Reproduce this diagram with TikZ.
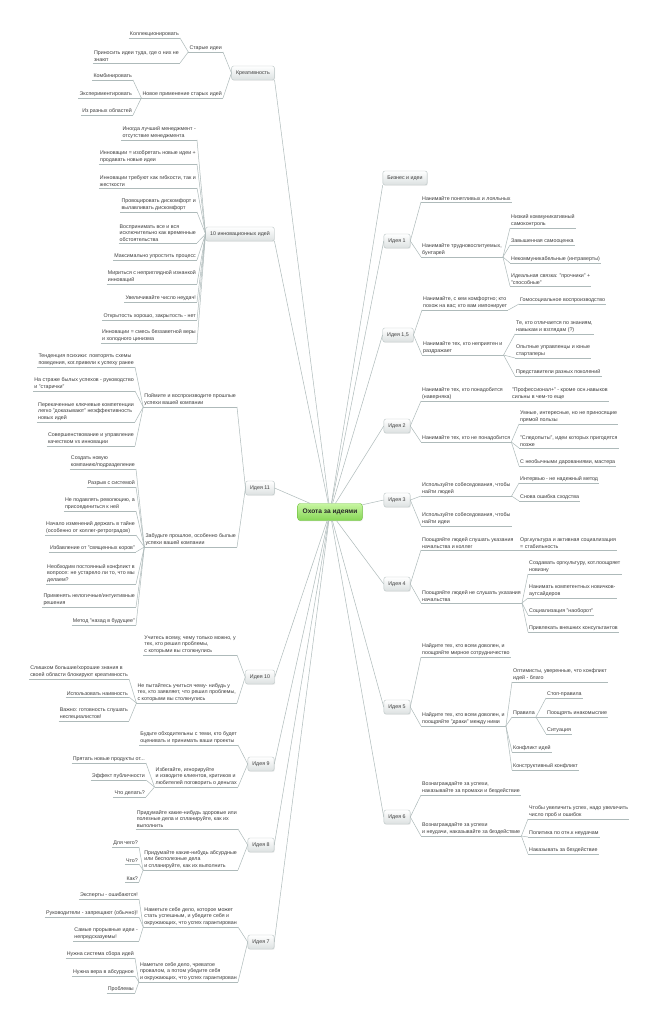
\documentclass[tikz,border=0pt]{standalone}
\usepackage{fontspec}
\setmainfont{Liberation Sans}
\usetikzlibrary{shadows}
\newcommand{\mapfont}{\fontsize{5.3}{6.5}\selectfont}
\definecolor{ink}{HTML}{3C3C3C}
\definecolor{linkgray}{HTML}{AEBABA}
\definecolor{boxline}{HTML}{B9C4C4}
\definecolor{boxbot}{HTML}{DCE1E1}
\definecolor{hunttop}{HTML}{C8F6A2}
\definecolor{huntbot}{HTML}{86D655}
\definecolor{huntline}{HTML}{72C242}

\begin{document}
\begin{tikzpicture}[x=1pt, y=-1pt,
					link/.style={draw=linkgray, line width=0.5pt},
					topic/.style={draw=boxline, rounded corners=2pt, top color=white, bottom color=boxbot, minimum height=14pt, inner xsep=4.5pt, font=\mapfont, text=ink,
						drop shadow={opacity=0.12, shadow xshift=0.7pt, shadow yshift=-0.9pt}},
					hunt/.style={draw=huntline, rounded corners=2.5pt, top color=hunttop, bottom color=huntbot, minimum height=17pt, inner xsep=5pt, font=\fontsize{6.6}{8}\selectfont\bfseries, text=black!85,
						drop shadow={opacity=0.12, shadow xshift=0.7pt, shadow yshift=-0.9pt}},
					sub/.style={inner xsep=1pt, inner ysep=1.4pt, align=left, font=\mapfont, text=ink,
						append after command={\pgfextra{\let\ulnode\tikzlastnode} (\ulnode.south west) edge[link] (\ulnode.south east)}},
					subl/.style={sub, anchor=south east},
					subr/.style={sub, anchor=south west}
				]
				% --- Рамка ---
				\fill[white] (0,0) rectangle (656,1024);
				\useasboundingbox (0,0) rectangle (656,1024);

				% --- Центр ---
				\node[hunt] (hunt) at (330,512) {Охота за идеями};

				% --- Главные темы слева ---
				\node[topic] (kr)  at (253,73)  {Креативность};
				\node[topic] (inn) at (240,234) {10 инновационных идей};
				\node[topic] (i11) at (260,488) {Идея 11};
				\node[topic] (i10) at (260,677) {Идея 10};
				\node[topic] (i9)  at (261,764) {Идея 9};
				\node[topic] (i8)  at (261,845) {Идея 8};
				\node[topic] (i7)  at (261,942) {Идея 7};

				% --- Главные темы справа ---
				\node[topic] (biz) at (405,178) {Бизнес и идеи};
				\node[topic] (i1)  at (397,241) {Идея 1};
				\node[topic] (i15) at (398,335) {Идея 1,5};
				\node[topic] (i2)  at (397,426) {Идея 2};
				\node[topic] (i3)  at (397,500) {Идея 3};
				\node[topic] (i4)  at (397,584) {Идея 4};
				\node[topic] (i5)  at (397,707) {Идея 5};
				\node[topic] (i6)  at (397,817) {Идея 6};

				% --- Связи с центром ---
				\draw[link] (hunt) -- (kr.south east);
				\draw[link] (hunt) -- (inn.south east);
				\draw[link] (hunt) -- (i11.east);
				\draw[link] (hunt) -- (i10.east);
				\draw[link] (hunt) -- (i9.east);
				\draw[link] (hunt) -- (i8.east);
				\draw[link] (hunt) -- (i7.east);
				\draw[link] (hunt) -- (biz.south west);
				\draw[link] (hunt) -- (i1.west);
				\draw[link] (hunt) -- (i15.west);
				\draw[link] (hunt) -- (i2.west);
				\draw[link] (hunt) -- (i3.west);
				\draw[link] (hunt) -- (i4.west);
				\draw[link] (hunt) -- (i5.west);
				\draw[link] (hunt) -- (i6.west);

				% --- Креативность ---
				\node[subl] (kr1) at (223,52) {Старые идеи};
				\draw[link] (kr.west) -- (kr1.south east);
				\node[subl] (kr11) at (180,38) {Коллекционировать};
				\draw[link] (kr1.south west) -- (kr11.south east);
				\node[subl] (kr12) at (180,63) {Приносить идеи туда, где о них не\\знают};
				\draw[link] (kr1.south west) -- (kr12.south east);
				\node[subl] (kr2) at (223,98) {Новое применение старых идей};
				\draw[link] (kr.west) -- (kr2.south east);
				\node[subl] (kr21) at (133,80) {Комбинировать};
				\draw[link] (kr2.south west) -- (kr21.south east);
				\node[subl] (kr22) at (133,98) {Экспериментировать};
				\draw[link] (kr2.south west) -- (kr22.south east);
				\node[subl] (kr23) at (133,115) {Из разных областей};
				\draw[link] (kr2.south west) -- (kr23.south east);

				% --- 10 инновационных идей ---
				\node[subl] (inn1) at (197,140) {Иногда лучший менеджмент -\\отсутствие менеджмента};
				\draw[link] (inn.west) -- (inn1.south east);
				\node[subl] (inn2) at (197,164) {Инновации = изобретать новые идеи +\\продавать новые идеи};
				\draw[link] (inn.west) -- (inn2.south east);
				\node[subl] (inn3) at (197,188) {Инновации требуют как гибкости, так и\\жесткости};
				\draw[link] (inn.west) -- (inn3.south east);
				\node[subl] (inn4) at (197,212) {Провоцировать дискомфорт и\\вылавливать дискомфорт};
				\draw[link] (inn.west) -- (inn4.south east);
				\node[subl] (inn5) at (197,243) {Воспринимать все и вся\\исключительно как временные\\обстоятельства};
				\draw[link] (inn.west) -- (inn5.south east);
				\node[subl] (inn6) at (197,260) {Максимально упростить процесс};
				\draw[link] (inn.west) -- (inn6.south east);
				\node[subl] (inn7) at (197,284) {Мириться с неприглядной изнанкой\\инноваций};
				\draw[link] (inn.west) -- (inn7.south east);
				\node[subl] (inn8) at (197,302) {Увеличивайте число неудач!};
				\draw[link] (inn.west) -- (inn8.south east);
				\node[subl] (inn9) at (197,320) {Открытость хорошо, закрытость - нет};
				\draw[link] (inn.west) -- (inn9.south east);
				\node[subl] (inn10) at (197,343) {Инновации = смесь беззаветной веры\\и холодного цинизма};
				\draw[link] (inn.west) -- (inn10.south east);

				% --- Идея 11 ---
				\node[subl] (i11a) at (237,407) {Поймите и воспроизводите прошлые\\успехи вашей компании};
				\draw[link] (i11.west) -- (i11a.south east);
				\node[subl] (i11a1) at (135,367) {Тенденция психики: повторять схемы\\поведения, ког.привели к успеху ранее};
				\draw[link] (i11a.south west) -- (i11a1.south east);
				\node[subl] (i11a2) at (135,391) {На страже былых успехов - руководство\\и "старички"};
				\draw[link] (i11a.south west) -- (i11a2.south east);
				\node[subl] (i11a3) at (135,422) {Перекаченные ключевые компетенции\\легко "доказывают" неэффективность\\новых идей};
				\draw[link] (i11a.south west) -- (i11a3.south east);
				\node[subl] (i11a4) at (135,446) {Совершенствование и управление\\качеством vs инновации};
				\draw[link] (i11a.south west) -- (i11a4.south east);
				\node[subl] (i11b) at (237,547) {Забудьте прошлое, особенно былые\\успехи вашей компании};
				\draw[link] (i11.west) -- (i11b.south east);
				\node[subl] (i11b1) at (136,469) {Создать новую\\компанию/подразделение};
				\draw[link] (i11b.south west) -- (i11b1.south east);
				\node[subl] (i11b2) at (136,487) {Разрыв с системой};
				\draw[link] (i11b.south west) -- (i11b2.south east);
				\node[subl] (i11b3) at (136,511) {Не подавлять революцию, а\\присоединиться к ней};
				\draw[link] (i11b.south west) -- (i11b3.south east);
				\node[subl] (i11b4) at (136,535) {Начало изменений держать в тайне\\(особенно от коллег-ретроградов)};
				\draw[link] (i11b.south west) -- (i11b4.south east);
				\node[subl] (i11b5) at (136,552) {Избавление от "священных коров"};
				\draw[link] (i11b.south west) -- (i11b5.south east);
				\node[subl] (i11b6) at (136,584) {Необходим постоянный конфликт в\\вопросе: не устарело ли то, что мы\\делаем?};
				\draw[link] (i11b.south west) -- (i11b6.south east);
				\node[subl] (i11b7) at (136,607) {Применять нелогичные/интуитивные\\решения};
				\draw[link] (i11b.south west) -- (i11b7.south east);
				\node[subl] (i11b8) at (136,625) {Метод "назад в будущее"};
				\draw[link] (i11b.south west) -- (i11b8.south east);

				% --- Идея 10 ---
				\node[subl] (i10a) at (237,655) {Учитесь всему, чему только можно, у\\тех, кто решил проблемы,\\с которыми вы столкнулись};
				\draw[link] (i10.west) -- (i10a.south east);
				\node[subl] (i10b) at (237,703) {Не пытайтесь учиться чему- нибудь у\\тех, кто заявляет, что решил проблемы,\\с которыми вы столкнулись};
				\draw[link] (i10.west) -- (i10b.south east);
				\node[subl] (i10b1) at (129,679) {Слишком большие/хорошие знания в\\своей области блокируют креативность};
				\draw[link] (i10b.south west) -- (i10b1.south east);
				\node[subl] (i10b2) at (129,697) {Использовать наивность};
				\draw[link] (i10b.south west) -- (i10b2.south east);
				\node[subl] (i10b3) at (129,721) {Важно: готовность слушать\\неспециалистов!};
				\draw[link] (i10b.south west) -- (i10b3.south east);

				% --- Идея 9 ---
				\node[subl] (i9a) at (238,745) {Будьте обходительны с теми, кто будет\\оценивать и принимать ваши проекты};
				\draw[link] (i9.west) -- (i9a.south east);
				\node[subl] (i9b) at (238,787) {Избегайте, игнорируйте\\и изводите клиентов, критиков и\\любителей поговорить о деньгах};
				\draw[link] (i9.west) -- (i9b.south east);
				\node[subl] (i9b1) at (146,763) {Прятать новые продукты от...};
				\draw[link] (i9b.south west) -- (i9b1.south east);
				\node[subl] (i9b2) at (146,780) {Эффект публичности};
				\draw[link] (i9b.south west) -- (i9b2.south east);
				\node[subl] (i9b3) at (146,797) {Что делать?};
				\draw[link] (i9b.south west) -- (i9b3.south east);

				% --- Идея 8 ---
				\node[subl] (i8a) at (238,829) {Придумайте какие-нибудь здоровые или\\полезные дела и спланируйте, как их\\выполнить};
				\draw[link] (i8.west) -- (i8a.south east);
				\node[subl] (i8b) at (238,870) {Придумайте какие-нибудь абсурдные\\или бесполезные дела\\и спланируйте, как их выполнить};
				\draw[link] (i8.west) -- (i8b.south east);
				\node[subl] (i8b1) at (139,847) {Для чего?};
				\draw[link] (i8b.south west) -- (i8b1.south east);
				\node[subl] (i8b2) at (139,864) {Что?};
				\draw[link] (i8b.south west) -- (i8b2.south east);
				\node[subl] (i8b3) at (139,882) {Как?};
				\draw[link] (i8b.south west) -- (i8b3.south east);

				% --- Идея 7 ---
				\node[subl] (i7a) at (238,927) {Наметьте себе дело, которое может\\стать успешным, и убедите себя и\\окружающих, что успех гарантирован};
				\draw[link] (i7.west) -- (i7a.south east);
				\node[subl] (i7a1) at (139,899) {Эксперты - ошибаются!};
				\draw[link] (i7a.south west) -- (i7a1.south east);
				\node[subl] (i7a2) at (139,917) {Руководители - запрещают (обычно)!};
				\draw[link] (i7a.south west) -- (i7a2.south east);
				\node[subl] (i7a3) at (139,941) {Самые прорывные идеи -\\непредсказуемы!};
				\draw[link] (i7a.south west) -- (i7a3.south east);
				\node[subl] (i7b) at (238,982) {Наметьте себе дело, чреватое\\провалом, а потом убедите себя\\и окружающих, что успех гарантирован};
				\draw[link] (i7.west) -- (i7b.south east);
				\node[subl] (i7b1) at (135,958) {Нужна система сбора идей};
				\draw[link] (i7b.south west) -- (i7b1.south east);
				\node[subl] (i7b2) at (135,976) {Нужна вера в абсурдное};
				\draw[link] (i7b.south west) -- (i7b2.south east);
				\node[subl] (i7b3) at (135,993) {Проблемы};
				\draw[link] (i7b.south west) -- (i7b3.south east);

				% --- Идея 1 ---
				\node[subr] (i1a) at (421,202) {Нанимайте понятливых и лояльных};
				\draw[link] (i1.east) -- (i1a.south west);
				\node[subr] (i1b) at (421,257) {Нанимайте трудновоспитуемых,\\бунтарей};
				\draw[link] (i1.east) -- (i1b.south west);
				\node[subr] (i1b1) at (510,228) {Низкий коммуникативный\\самоконтроль};
				\draw[link] (i1b.south east) -- (i1b1.south west);
				\node[subr] (i1b2) at (510,245) {Завышенная самооценка};
				\draw[link] (i1b.south east) -- (i1b2.south west);
				\node[subr] (i1b3) at (510,263) {Некоммуникабельные (интраверты)};
				\draw[link] (i1b.south east) -- (i1b3.south west);
				\node[subr] (i1b4) at (510,286) {Идеальная связка: "прочники" +\\"способные"};
				\draw[link] (i1b.south east) -- (i1b4.south west);

				% --- Идея 1,5 ---
				\node[subr] (i15a) at (422,310) {Нанимайте, с кем комфортно; кто\\похож на вас; кто вам импонирует};
				\draw[link] (i15.east) -- (i15a.south west);
				\node[subr] (i15a1) at (519,304) {Гомосоциальное воспроизводство};
				\draw[link] (i15a.south east) -- (i15a1.south west);
				\node[subr] (i15b) at (422,355) {Нанимайте тех, кто неприятен и\\раздражает};
				\draw[link] (i15.east) -- (i15b.south west);
				\node[subr] (i15b1) at (515,334) {Те, кто отличается по знаниям,\\навыкам и взглядам (?)};
				\draw[link] (i15b.south east) -- (i15b1.south west);
				\node[subr] (i15b2) at (515,358) {Опытные управленцы и юные\\стартаперы};
				\draw[link] (i15b.south east) -- (i15b2.south west);
				\node[subr] (i15b3) at (515,376) {Представители разных поколений};
				\draw[link] (i15b.south east) -- (i15b3.south west);

				% --- Идея 2 ---
				\node[subr] (i2a) at (421,401) {Нанимайте тех, кто понадобится\\(наверняка)};
				\draw[link] (i2.east) -- (i2a.south west);
				\node[subr] (i2a1) at (511,401) {"Профессионал+" - кроме осн.навыков\\сильны в чем-то еще};
				\draw[link] (i2a.south east) -- (i2a1.south west);
				\node[subr] (i2b) at (421,442) {Нанимайте тех, кто не понадобится};
				\draw[link] (i2.east) -- (i2b.south west);
				\node[subr] (i2b1) at (519,424) {Умные, интересные, но не приносящие\\прямой пользы};
				\draw[link] (i2b.south east) -- (i2b1.south west);
				\node[subr] (i2b2) at (519,448) {"Следопыты", идеи которых пригодятся\\позже};
				\draw[link] (i2b.south east) -- (i2b2.south west);
				\node[subr] (i2b3) at (519,466) {С необычными дарованиями, мастера};
				\draw[link] (i2b.south east) -- (i2b3.south west);

				% --- Идея 3 ---
				\node[subr] (i3a) at (421,496) {Используйте собеседования, чтобы\\найти людей};
				\draw[link] (i3.east) -- (i3a.south west);
				\node[subr] (i3a1) at (519,483) {Интервью - не надежный метод};
				\draw[link] (i3a.south east) -- (i3a1.south west);
				\node[subr] (i3a2) at (519,501) {Снова ошибка сходства};
				\draw[link] (i3a.south east) -- (i3a2.south west);
				\node[subr] (i3b) at (421,526) {Используйте собеседования, чтобы\\найти идеи};
				\draw[link] (i3.east) -- (i3b.south west);

				% --- Идея 4 ---
				\node[subr] (i4a) at (421,550) {Поощряйте людей слушать указания\\начальства и коллег};
				\draw[link] (i4.east) -- (i4a.south west);
				\node[subr] (i4a1) at (519,550) {Орг.культура и активная социализация\\= стабильность};
				\draw[link] (i4a.south east) -- (i4a1.south west);
				\node[subr] (i4b) at (421,603) {Поощряйте людей не слушать указания\\начальства};
				\draw[link] (i4.east) -- (i4b.south west);
				\node[subr] (i4b1) at (528,574) {Создавать оргкультуру, кот.поощряет\\новизну};
				\draw[link] (i4b.south east) -- (i4b1.south west);
				\node[subr] (i4b2) at (528,598) {Нанимать компетентных новичков-\\аутсайдеров};
				\draw[link] (i4b.south east) -- (i4b2.south west);
				\node[subr] (i4b3) at (528,615) {Социализация "наоборот"};
				\draw[link] (i4b.south east) -- (i4b3.south west);
				\node[subr] (i4b4) at (528,632) {Привлекать внешних консультантов};
				\draw[link] (i4b.south east) -- (i4b4.south west);

				% --- Идея 5 ---
				\node[subr] (i5a) at (421,657) {Найдите тех, кто всем доволен, и\\поощряйте мирное сотрудничество};
				\draw[link] (i5.east) -- (i5a.south west);
				\node[subr] (i5b) at (421,726) {Найдите тех, кто всем доволен, и\\поощряйте "драки" между ними};
				\draw[link] (i5.east) -- (i5b.south west);
				\node[subr] (i5b1) at (512,682) {Оптимисты, уверенные, что конфликт\\идей - благо};
				\draw[link] (i5b.south east) -- (i5b1.south west);
				\node[subr] (i5b2) at (512,717) {Правила};
				\draw[link] (i5b.south east) -- (i5b2.south west);
				\node[subr] (i5b21) at (546,698) {Стоп-правила};
				\draw[link] (i5b2.south east) -- (i5b21.south west);
				\node[subr] (i5b22) at (546,717) {Поощрять инакомыслие};
				\draw[link] (i5b2.south east) -- (i5b22.south west);
				\node[subr] (i5b23) at (546,734) {Ситуация};
				\draw[link] (i5b2.south east) -- (i5b23.south west);
				\node[subr] (i5b3) at (512,752) {Конфликт идей};
				\draw[link] (i5b.south east) -- (i5b3.south west);
				\node[subr] (i5b4) at (512,770) {Конструктивный конфликт};
				\draw[link] (i5b.south east) -- (i5b4.south west);

				% --- Идея 6 ---
				\node[subr] (i6a) at (421,795) {Вознаграждайте за успехи,\\наказывайте за промахи и бездействие};
				\draw[link] (i6.east) -- (i6a.south west);
				\node[subr] (i6b) at (421,836) {Вознаграждайте за успехи\\и неудачи, наказывайте за бездействие};
				\draw[link] (i6.east) -- (i6b.south west);
				\node[subr] (i6b1) at (528,819) {Чтобы увеличить успех, надо увеличить\\число проб и ошибок};
				\draw[link] (i6b.south east) -- (i6b1.south west);
				\node[subr] (i6b2) at (528,837) {Политика по отн.к неудачам};
				\draw[link] (i6b.south east) -- (i6b2.south west);
				\node[subr] (i6b3) at (528,854) {Наказывать за бездействие};
				\draw[link] (i6b.south east) -- (i6b3.south west);

			\end{tikzpicture}
\end{document}
